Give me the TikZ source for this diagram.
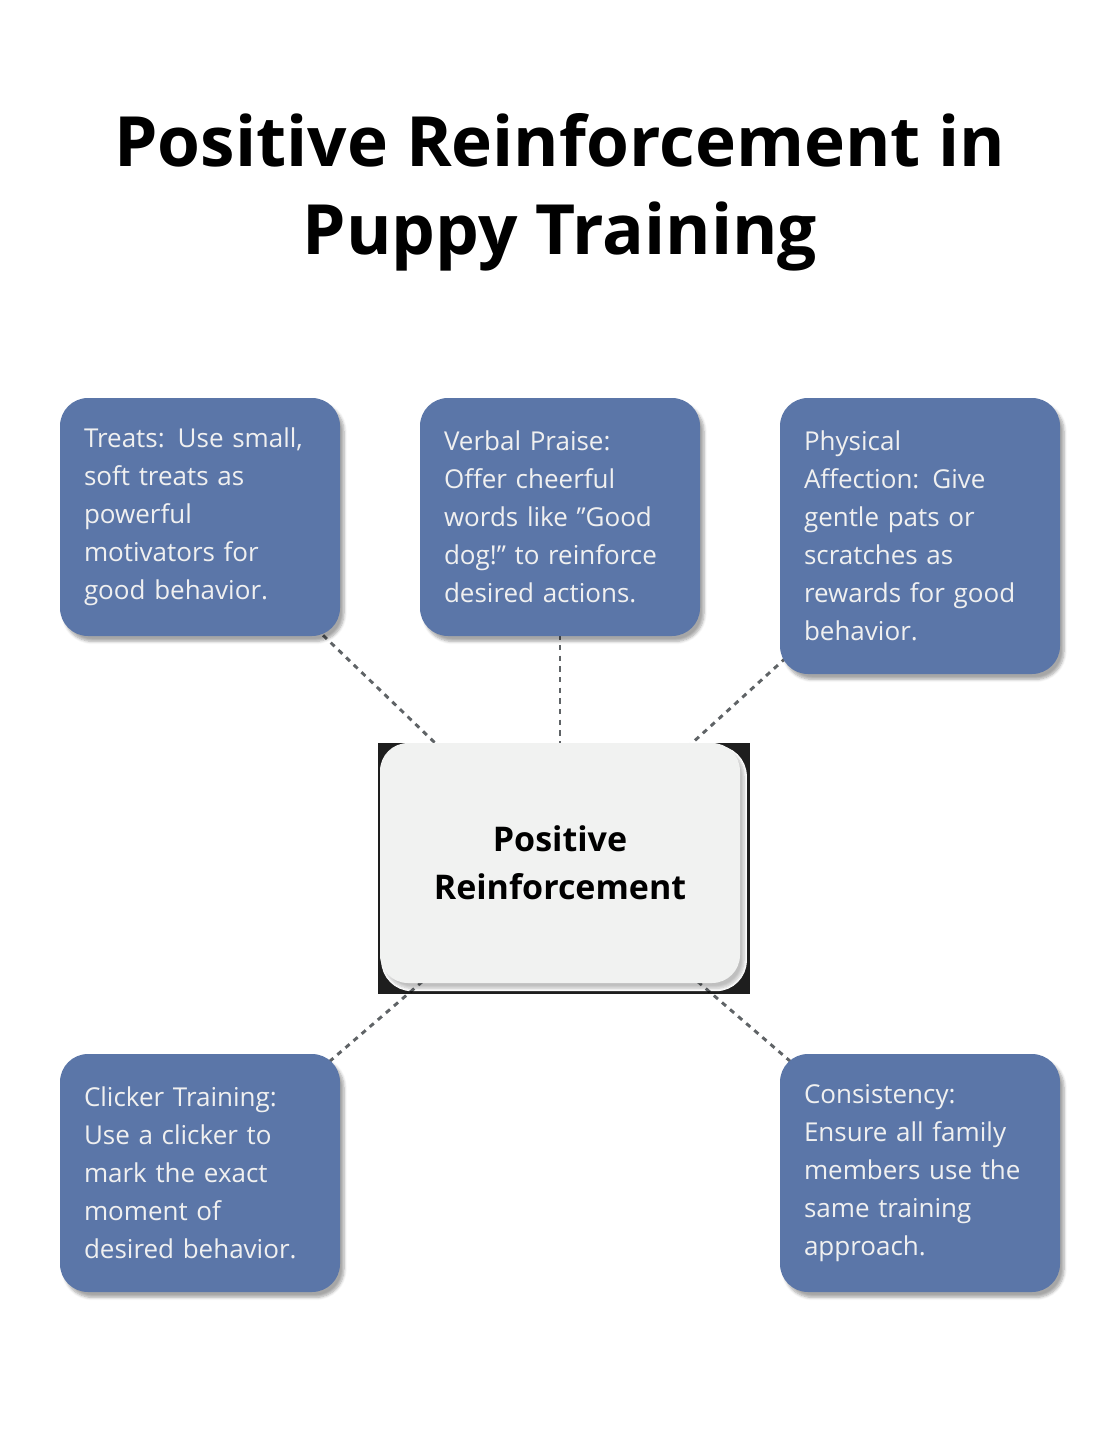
\documentclass[tikz,border=0pt]{standalone}
\usepackage{fontspec}
\setmainfont{Open Sans}
\usetikzlibrary{shadows.blur}
\definecolor{bgc}{HTML}{DFE2E1}
\definecolor{boxc}{HTML}{5B76A8}
\definecolor{ctrc}{HTML}{F1F2F1}
\definecolor{linec}{HTML}{5F6366}
\pgfdeclarelayer{bglayer}
\pgfdeclarelayer{linelayer}
\pgfsetlayers{bglayer,linelayer,main}
\tikzset{
  card/.style={fill=boxc, rounded corners=21pt, minimum width=210pt, text width=174pt,
    align=left, inner sep=0pt, text=white!94!black, font=\fontsize{19.5pt}{28.5pt}\selectfont,
    blur shadow={shadow xshift=3pt, shadow yshift=-4pt, shadow opacity=35, shadow blur steps=6}},
  centre/.style={fill=ctrc, rounded corners=21pt, minimum width=270pt, minimum height=180pt,
    align=center, font=\bfseries\fontsize{25.5pt}{36pt}\selectfont,
    blur shadow={shadow xshift=3pt, shadow yshift=-4pt, shadow opacity=25, shadow blur steps=6}},
  link/.style={draw=linec, line width=2.2pt, dash pattern=on 4pt off 4pt}
}
\begin{document}
\begin{tikzpicture}[x=0.75pt,y=-0.75pt]
\begin{pgfonlayer}{bglayer}
\fill[bgc] (0,0) rectangle (1120,1452);
\end{pgfonlayer}
\useasboundingbox (0,0) rectangle (1120,1452);
\node[font=\bfseries\fontsize{52pt}{66pt}\selectfont, align=center] (title) at (560,192)
  {Positive Reinforcement in\\Puppy Training};
\node[centre] (c) at (560,863) {Positive\\Reinforcement};
\node[card, minimum height=178.5pt] (t) at (200,517) {Treats: Use small,\\soft treats as\\powerful\\motivators for\\good behavior.};
\node[card, minimum height=178.5pt] (v) at (560,517) {Verbal Praise:\\Offer cheerful\\words like "Good\\dog!" to reinforce\\desired actions.};
\node[card, minimum height=207pt] (p) at (920,536) {Physical\\Affection: Give\\gentle pats or\\scratches as\\rewards for good\\behavior.};
\node[card, minimum height=178.5pt] (k) at (200,1173) {Clicker Training:\\Use a clicker to\\mark the exact\\moment of\\desired behavior.};
\node[card, minimum height=178.5pt] (s) at (920,1173) {Consistency:\\Ensure all family\\members use the\\same training\\approach.};
\begin{pgfonlayer}{linelayer}
\draw[link] (t.center) -- (c.center);
\draw[link] (v.center) -- (c.center);
\draw[link] (p.center) -- (c.center);
\draw[link] (k.center) -- (c.center);
\draw[link] (s.center) -- (c.center);
\end{pgfonlayer}
\end{tikzpicture}
\end{document}
